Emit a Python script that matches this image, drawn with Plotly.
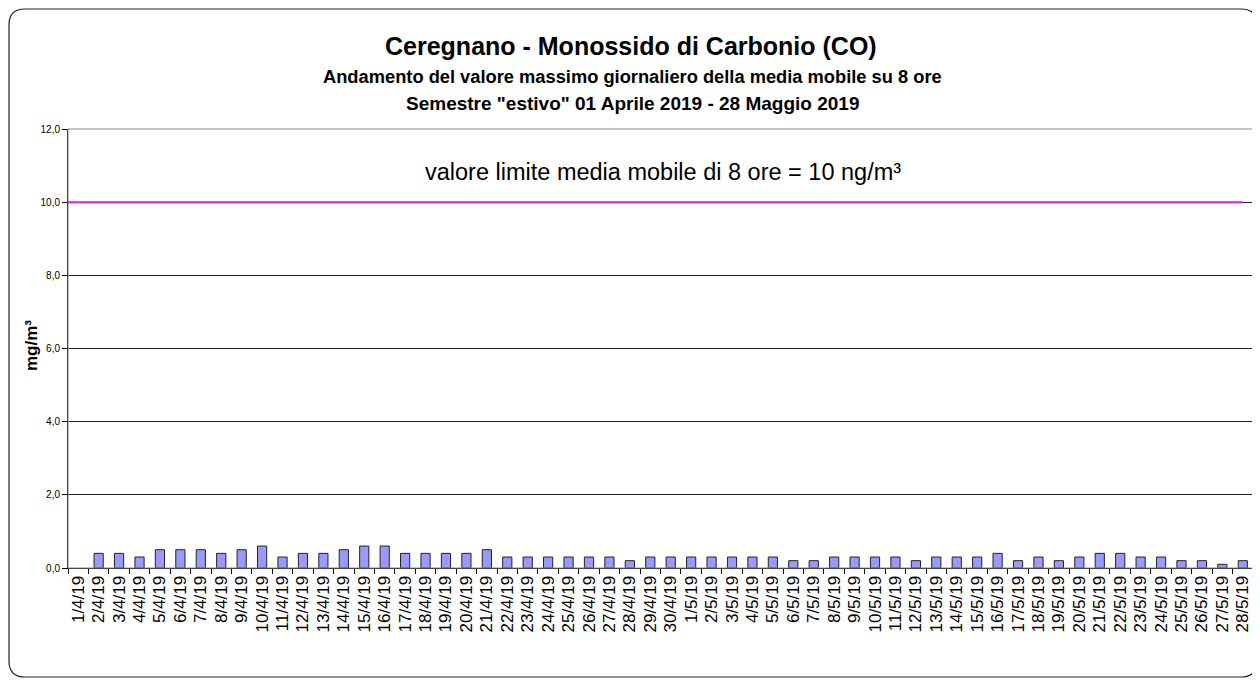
import plotly.graph_objects as go

dates = [f"{d}/4/19" for d in range(1, 31)] + [f"{d}/5/19" for d in range(1, 29)]
values = [None, 0.4, 0.4, 0.3, 0.5, 0.5, 0.5, 0.4, 0.5, 0.6,
          0.3, 0.4, 0.4, 0.5, 0.6, 0.6, 0.4, 0.4, 0.4, 0.4,
          0.5, 0.3, 0.3, 0.3, 0.3, 0.3, 0.3, 0.2, 0.3, 0.3,
          0.3, 0.3, 0.3, 0.3, 0.3, 0.2, 0.2, 0.3, 0.3, 0.3,
          0.3, 0.2, 0.3, 0.3, 0.3, 0.4, 0.2, 0.3, 0.2, 0.3,
          0.4, 0.4, 0.3, 0.3, 0.2, 0.2, 0.1, 0.2]
limit = 10
y_ticks = [0, 2, 4, 6, 8, 10, 12]
y_tick_text = ["0,0", "2,0", "4,0", "6,0", "8,0", "10,0", "12,0"]

# page body has an 8px margin: work in window pixels, convert to figure pixels
OFF = 8
W, H = 1260 - OFF, 681 - OFF
PL, PR, PT, PB = 68, 1253, 129, 568          # plot area in window pixels
L, T = PL - OFF, PT - OFF
R, B = W - (PR - OFF), H - (PB - OFF)
pw, ph = W - L - R, H - T - B

def px(x):
    return (x - OFF - L) / pw

def py(y):
    return (PB - y) / ph

font = "Liberation Sans, Arial, sans-serif"

fig = go.Figure()
fig.add_trace(go.Bar(
    x=dates, y=values,
    marker=dict(color="#9999FF", line=dict(color="#222222", width=1)),
    showlegend=False,
))

# rounded outer border
x0, x1 = px(9), px(1257)
y0, y1 = py(677), py(9)
rx, ry = 16 / pw, 16 / ph
path = (f"M {x0+rx},{y1} L {x1-rx},{y1} Q {x1},{y1} {x1},{y1-ry} "
        f"L {x1},{y0+ry} Q {x1},{y0} {x1-rx},{y0} L {x0+rx},{y0} "
        f"Q {x0},{y0} {x0},{y0+ry} L {x0},{y1-ry} Q {x0},{y1} {x0+rx},{y1} Z")
shapes = [
    dict(type="path", xref="paper", yref="paper", path=path,
         line=dict(color="#222222", width=1.2), layer="below"),
    dict(type="rect", xref="paper", yref="paper", x0=0, x1=1, y0=0, y1=1,
         line=dict(color="#888888", width=1), layer="above"),
    dict(type="line", xref="x", yref="y", x0=-0.5, x1=len(dates) - 1,
         y0=limit, y1=limit, line=dict(color="#DD22DD", width=2), layer="above"),
]

def note(text, x, y, size, angle=0):
    return dict(text=text, xref="paper", yref="paper", x=px(x), y=py(y),
                xanchor="center", yanchor="middle", showarrow=False, textangle=angle,
                font=dict(size=size, color="black", family=font))

annotations = [
    note("<b>Ceregnano - Monossido di Carbonio (CO)</b>", 631, 46, 25),
    note("<b>Andamento del valore massimo giornaliero della media mobile su 8 ore</b>", 632, 76, 18.3),
    note("<b>Semestre \"estivo\" 01 Aprile 2019 - 28 Maggio 2019</b>", 632, 103, 19),
    note("valore limite media mobile di 8 ore = 10 ng/m³", 663, 172, 23.5),
    note("<b>mg/m³</b>", 31, 346, 17, -90),
]

fig.update_layout(
    width=W, height=H,
    margin=dict(l=L, r=R, t=T, b=B, autoexpand=False),
    paper_bgcolor="white", plot_bgcolor="white",
    bargap=0.55,
    shapes=shapes, annotations=annotations,
    font=dict(family=font, color="black"),
    xaxis=dict(type="category", tickangle=-90, tickfont=dict(size=17, family=font),
               showline=True, linecolor="black", linewidth=1,
               ticks="outside", tickson="boundaries", ticklen=5, tickcolor="black",
               showgrid=False, range=[-0.5, len(dates) - 0.5]),
    yaxis=dict(range=[0, 12], tickvals=y_ticks, ticktext=y_tick_text,
               tickfont=dict(size=10, family=font), showline=True, linecolor="black",
               linewidth=1, ticks="outside", ticklen=5, tickcolor="black",
               showgrid=True, gridcolor="#222222", gridwidth=1, zeroline=False),
)

fig.write_html("out.html")
